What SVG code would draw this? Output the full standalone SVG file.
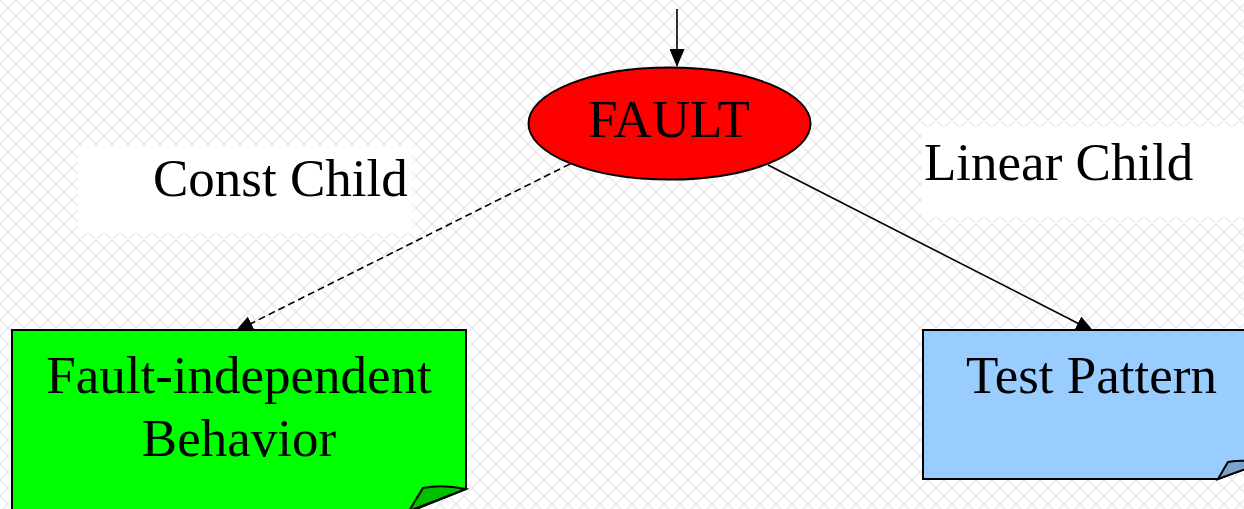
<svg xmlns="http://www.w3.org/2000/svg" width="1244" height="509" viewBox="0 0 1244 509">
  <style>
    .t { font-family: 'Liberation Serif', Tinos, 'Times New Roman', 'DejaVu Serif', serif; font-size: 53px; fill: #000; }
    .node { stroke: #000; stroke-width: 2; }
    .edge { stroke: #000; stroke-width: 1.6; fill: none; }
  </style>
  <defs>
    <pattern id="lattice" width="16" height="16" patternUnits="userSpaceOnUse">
      <rect width="16" height="16" fill="#ffffff"/>
      <path d="M0,0 L16,16 M16,0 L0,16" stroke="#ebebeb" stroke-width="1.4"/>
    </pattern>
    <marker id="arrow" viewBox="0 0 18 15" refX="17" refY="7.5" markerWidth="18" markerHeight="15" markerUnits="userSpaceOnUse" orient="auto">
      <path d="M0,0 L18,7.5 L0,15 Z" fill="#000"/>
    </marker>
  </defs>
  <rect width="1244" height="509" fill="url(#lattice)"/>

  <g id="label-const">
    <rect x="78" y="146" width="334" height="87" fill="#ffffff"/>
    <text class="t" x="153" y="196" font-family="Liberation Serif, serif">Const Child</text>
  </g>
  <g id="label-linear">
    <rect x="922" y="127" width="322" height="90" fill="#ffffff"/>
    <text class="t" x="924" y="180" font-family="Liberation Serif, serif">Linear Child</text>
  </g>

  <g id="connectors">
    <line class="edge" x1="677" y1="9" x2="677" y2="66" marker-end="url(#arrow)"/>
    <line class="edge" x1="570" y1="164" x2="236" y2="331" stroke-dasharray="7,4" marker-end="url(#arrow)"/>
    <line class="edge" x1="768" y1="165" x2="1093" y2="331" marker-end="url(#arrow)"/>
  </g>

  <g id="fault">
    <ellipse class="node" cx="669.5" cy="123.5" rx="141" ry="56" fill="#ff0000"/>
    <text class="t" x="669" y="137" text-anchor="middle" font-family="Liberation Serif, serif">FAULT</text>
  </g>

  <g id="fault-independent">
    <path class="node" d="M12,330 H466 V489 L409,512 H12 Z" fill="#00ff00"/>
    <path class="node" d="M409,511 L423,488 Q442,484 466,489 Z" fill="#00c000" stroke-width="1.8"/>
    <text class="t" x="239" y="393" text-anchor="middle" font-family="Liberation Serif, serif">Fault-independent</text>
    <text class="t" x="239" y="456" text-anchor="middle" font-family="Liberation Serif, serif">Behavior</text>
  </g>

  <g id="test-pattern">
    <path class="node" d="M923,330 H1262 V463 L1218,479 H923 Z" fill="#99ccff"/>
    <path class="node" d="M1218,479 L1228,462 Q1245,459 1262,463 Z" fill="#7aa3cc" stroke-width="1.8"/>
    <text class="t" x="1091.5" y="393" text-anchor="middle" font-family="Liberation Serif, serif">Test Pattern</text>
  </g>
</svg>
